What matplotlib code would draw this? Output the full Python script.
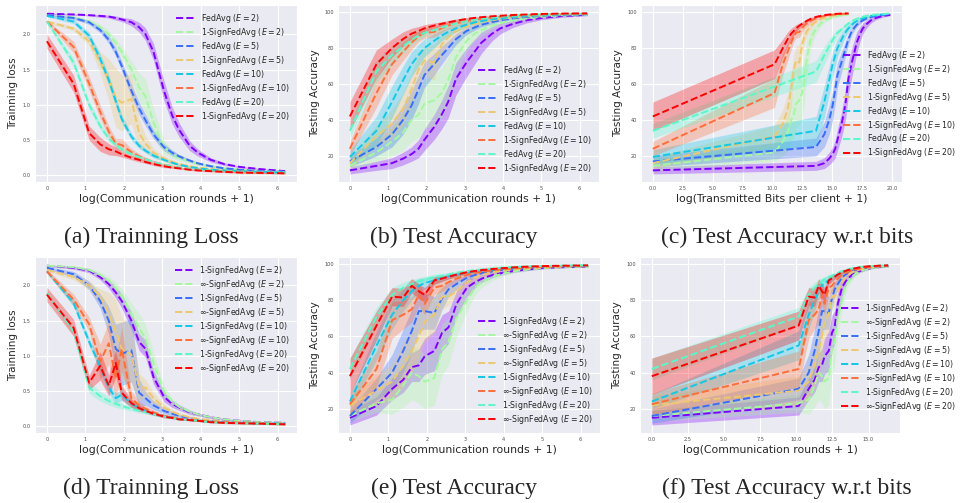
import numpy as np
import matplotlib
matplotlib.use("Agg")
import matplotlib.pyplot as plt
from matplotlib.ticker import MultipleLocator
import seaborn as sns

# ---------------- data ----------------
rounds = [0, 1, 2, 3, 4, 5, 6, 8, 10, 12, 15, 20, 25, 30, 40, 50, 70, 100, 150, 250, 490]
num_params = 26000            # bits per round for sign methods (1 bit / param)
fedavg_bits_per_param = 32    # FedAvg sends 32-bit floats

epochs = [2, 5, 10, 20]

# top row: FedAvg vs 1-SignFedAvg  -- training loss
loss_fedavg = {
    2:  [2.29, 2.28, 2.27, 2.26, 2.25, 2.23, 2.21, 2.17, 2.10, 2.00, 1.75, 1.20, 0.85, 0.65, 0.42, 0.32, 0.22, 0.16, 0.12, 0.09, 0.06],
    5:  [2.27, 2.23, 2.17, 2.06, 1.92, 1.75, 1.55, 1.20, 0.95, 0.78, 0.58, 0.40, 0.32, 0.27, 0.21, 0.17, 0.13, 0.10, 0.08, 0.06, 0.05],
    10: [2.26, 2.18, 1.98, 1.65, 1.35, 1.05, 0.80, 0.55, 0.42, 0.35, 0.28, 0.22, 0.18, 0.15, 0.12, 0.10, 0.08, 0.07, 0.06, 0.05, 0.04],
    20: [2.18, 1.60, 1.00, 0.70, 0.52, 0.43, 0.37, 0.30, 0.26, 0.23, 0.19, 0.15, 0.13, 0.11, 0.09, 0.08, 0.07, 0.06, 0.05, 0.04, 0.04],
}
loss_fedavg_std = {
    2:  [0.01, 0.01, 0.01, 0.02, 0.02, 0.03, 0.03, 0.05, 0.07, 0.09, 0.12, 0.14, 0.12, 0.10, 0.07, 0.05, 0.03, 0.02, 0.01, 0.01, 0.01],
    5:  [0.01, 0.02, 0.03, 0.04, 0.05, 0.06, 0.07, 0.09, 0.09, 0.08, 0.06, 0.05, 0.04, 0.03, 0.02, 0.02, 0.01, 0.01, 0.01, 0.01, 0.01],
    10: [0.01, 0.03, 0.05, 0.07, 0.08, 0.07, 0.06, 0.05, 0.04, 0.03, 0.03, 0.02, 0.02, 0.01, 0.01, 0.01, 0.01, 0.01, 0.01, 0.01, 0.01],
    20: [0.02, 0.06, 0.06, 0.05, 0.04, 0.04, 0.03, 0.03, 0.02, 0.02, 0.02, 0.02, 0.01, 0.01, 0.01, 0.01, 0.01, 0.01, 0.01, 0.01, 0.01],
}
loss_sign1 = {
    2:  [2.27, 2.24, 2.18, 2.10, 2.00, 1.88, 1.75, 1.50, 1.25, 1.12, 0.75, 0.40, 0.30, 0.25, 0.20, 0.16, 0.13, 0.10, 0.08, 0.06, 0.05],
    5:  [2.18, 2.08, 1.90, 1.60, 1.35, 1.10, 1.03, 1.08, 0.60, 0.45, 0.32, 0.24, 0.19, 0.16, 0.13, 0.11, 0.09, 0.07, 0.06, 0.05, 0.04],
    10: [2.18, 1.82, 1.30, 0.90, 0.62, 0.45, 0.43, 0.33, 0.27, 0.23, 0.19, 0.15, 0.13, 0.11, 0.09, 0.08, 0.07, 0.06, 0.05, 0.04, 0.03],
    20: [1.90, 1.30, 0.60, 0.44, 0.37, 0.34, 0.30, 0.25, 0.22, 0.19, 0.16, 0.13, 0.11, 0.10, 0.08, 0.07, 0.06, 0.05, 0.04, 0.035, 0.03],
}
loss_sign1_std = {
    2:  [0.01, 0.02, 0.03, 0.04, 0.05, 0.06, 0.08, 0.12, 0.20, 0.25, 0.20, 0.10, 0.06, 0.04, 0.03, 0.02, 0.02, 0.01, 0.01, 0.01, 0.01],
    5:  [0.02, 0.03, 0.06, 0.15, 0.30, 0.42, 0.40, 0.35, 0.20, 0.12, 0.06, 0.04, 0.03, 0.02, 0.02, 0.01, 0.01, 0.01, 0.01, 0.01, 0.01],
    10: [0.02, 0.08, 0.10, 0.10, 0.08, 0.07, 0.09, 0.05, 0.04, 0.03, 0.02, 0.02, 0.02, 0.01, 0.01, 0.01, 0.01, 0.01, 0.01, 0.01, 0.01],
    20: [0.10, 0.12, 0.10, 0.10, 0.08, 0.06, 0.04, 0.03, 0.03, 0.02, 0.02, 0.02, 0.01, 0.01, 0.01, 0.01, 0.01, 0.01, 0.01, 0.01, 0.01],
}

# top row: test accuracy
acc_fedavg = {
    2:  [12, 14.5, 16, 18.5, 21, 24, 29, 36, 43, 50, 63, 72, 78, 83, 88, 91, 93.5, 95.5, 96.8, 97.8, 98.5],
    5:  [17, 25, 32, 40, 48, 57, 65, 71, 76, 80, 85, 89.5, 91.5, 93, 94.5, 95.5, 96.5, 97.3, 98, 98.5, 98.9],
    10: [19.5, 34, 50, 62, 71, 76, 80, 84, 87, 89, 91, 93, 94.3, 95, 96, 96.6, 97.3, 97.9, 98.3, 98.7, 99],
    20: [34, 67, 76, 81, 84.5, 87, 88.5, 90, 91.5, 92.5, 93.7, 95, 95.8, 96.3, 97, 97.5, 98, 98.4, 98.7, 99, 99.2],
}
acc_fedavg_std = {
    2:  [2, 2.5, 3, 3.5, 4, 5, 6, 7, 8, 9, 9, 8, 7, 6, 4, 3, 2, 1.5, 1, 0.7, 0.5],
    5:  [3, 5, 7, 8, 8, 8, 7, 6, 5, 4, 3, 2, 1.5, 1.2, 1, 0.8, 0.6, 0.5, 0.4, 0.3, 0.3],
    10: [4, 8, 9, 8, 7, 6, 5, 4, 3, 2.5, 2, 1.5, 1.2, 1, 0.8, 0.6, 0.5, 0.4, 0.3, 0.3, 0.2],
    20: [4, 6, 5, 4, 3, 2.5, 2, 1.5, 1.2, 1, 1, 0.8, 0.6, 0.5, 0.4, 0.3, 0.3, 0.2, 0.2, 0.2, 0.2],
}
acc_sign1 = {
    2:  [14.5, 22, 28, 33, 40, 43, 49, 51, 55, 62, 75, 84, 88, 90, 92.5, 94, 95.5, 96.5, 97.5, 98.2, 98.7],
    5:  [16, 31, 38, 46, 57, 68, 73, 72, 82, 86, 89.5, 92, 93.5, 94.5, 95.5, 96.3, 97, 97.7, 98.2, 98.7, 99],
    10: [24, 55, 71, 78, 83, 86.5, 88.5, 89, 91, 92.5, 93.7, 95, 95.8, 96.3, 97, 97.5, 98, 98.4, 98.7, 99, 99.2],
    20: [42, 71, 80, 85, 88, 89.5, 91, 92.5, 93.5, 94.3, 95.2, 96.2, 96.8, 97.2, 97.7, 98, 98.4, 98.7, 99, 99.2, 99.3],
}
acc_sign1_std = {
    2:  [3, 5, 8, 10, 12, 13, 14, 14, 14, 13, 10, 6, 4, 3, 2, 1.5, 1, 0.8, 0.6, 0.5, 0.4],
    5:  [3, 6, 8, 9, 9, 8, 8, 10, 6, 4, 3, 2, 1.5, 1.2, 1, 0.8, 0.6, 0.5, 0.4, 0.3, 0.3],
    10: [4, 8, 6, 5, 4, 3, 3, 3, 2.5, 2, 1.5, 1.2, 1, 0.8, 0.6, 0.5, 0.4, 0.3, 0.3, 0.2, 0.2],
    20: [8, 8, 5, 4, 3, 2.5, 2, 1.5, 1.2, 1, 1, 0.8, 0.6, 0.5, 0.4, 0.3, 0.3, 0.2, 0.2, 0.2, 0.2],
}

# bottom row: 1-SignFedAvg vs inf-SignFedAvg -- training loss
loss2_sign1 = {
    2:  [2.28, 2.25, 2.21, 2.12, 2.02, 1.90, 1.78, 1.50, 1.20, 1.10, 0.70, 0.42, 0.32, 0.27, 0.20, 0.17, 0.13, 0.10, 0.08, 0.06, 0.05],
    5:  [2.25, 2.16, 2.00, 1.78, 1.50, 1.10, 1.03, 1.08, 0.48, 0.40, 0.30, 0.22, 0.18, 0.15, 0.12, 0.10, 0.08, 0.07, 0.06, 0.05, 0.04],
    10: [2.20, 1.75, 1.20, 0.85, 0.55, 0.40, 0.45, 0.32, 0.26, 0.22, 0.18, 0.15, 0.13, 0.11, 0.09, 0.08, 0.07, 0.06, 0.05, 0.04, 0.04],
    20: [1.89, 1.35, 0.55, 0.43, 0.36, 0.32, 0.29, 0.25, 0.22, 0.20, 0.17, 0.14, 0.12, 0.10, 0.09, 0.08, 0.06, 0.05, 0.045, 0.04, 0.03],
}
loss2_sign1_std = {
    2:  [0.01, 0.02, 0.03, 0.04, 0.06, 0.08, 0.10, 0.12, 0.12, 0.12, 0.10, 0.07, 0.05, 0.04, 0.03, 0.02, 0.02, 0.01, 0.01, 0.01, 0.01],
    5:  [0.02, 0.04, 0.06, 0.10, 0.20, 0.35, 0.45, 0.45, 0.20, 0.10, 0.06, 0.04, 0.03, 0.02, 0.02, 0.01, 0.01, 0.01, 0.01, 0.01, 0.01],
    10: [0.02, 0.05, 0.06, 0.07, 0.08, 0.07, 0.08, 0.05, 0.04, 0.03, 0.02, 0.02, 0.02, 0.01, 0.01, 0.01, 0.01, 0.01, 0.01, 0.01, 0.01],
    20: [0.03, 0.06, 0.08, 0.07, 0.06, 0.05, 0.04, 0.03, 0.03, 0.02, 0.02, 0.02, 0.01, 0.01, 0.01, 0.01, 0.01, 0.01, 0.01, 0.01, 0.01],
}
loss2_signinf = {
    2:  [2.28, 2.26, 2.22, 2.15, 2.07, 1.97, 1.85, 1.60, 1.40, 1.25, 0.90, 0.50, 0.35, 0.28, 0.21, 0.17, 0.13, 0.10, 0.08, 0.06, 0.05],
    5:  [2.22, 2.12, 2.00, 1.85, 1.60, 1.35, 1.10, 1.02, 0.55, 0.55, 0.40, 0.27, 0.21, 0.17, 0.13, 0.11, 0.09, 0.07, 0.06, 0.05, 0.04],
    10: [2.20, 1.80, 1.45, 0.92, 1.18, 0.68, 1.10, 0.40, 0.30, 0.25, 0.20, 0.15, 0.13, 0.11, 0.09, 0.08, 0.07, 0.06, 0.05, 0.04, 0.03],
    20: [1.87, 1.40, 0.62, 0.86, 0.58, 0.90, 0.48, 0.33, 0.26, 0.22, 0.18, 0.14, 0.12, 0.10, 0.09, 0.08, 0.06, 0.05, 0.045, 0.04, 0.03],
}
loss2_signinf_std = {
    2:  [0.01, 0.02, 0.03, 0.04, 0.06, 0.08, 0.10, 0.15, 0.20, 0.20, 0.15, 0.08, 0.05, 0.04, 0.03, 0.02, 0.02, 0.01, 0.01, 0.01, 0.01],
    5:  [0.02, 0.04, 0.06, 0.10, 0.30, 0.45, 0.45, 0.40, 0.20, 0.12, 0.08, 0.05, 0.03, 0.02, 0.02, 0.01, 0.01, 0.01, 0.01, 0.01, 0.01],
    10: [0.03, 0.08, 0.10, 0.25, 0.30, 0.30, 0.30, 0.10, 0.06, 0.04, 0.03, 0.02, 0.02, 0.01, 0.01, 0.01, 0.01, 0.01, 0.01, 0.01, 0.01],
    20: [0.10, 0.12, 0.10, 0.20, 0.15, 0.20, 0.10, 0.06, 0.04, 0.03, 0.02, 0.02, 0.01, 0.01, 0.01, 0.01, 0.01, 0.01, 0.01, 0.01, 0.01],
}

# bottom row: test accuracy
acc2_sign1 = {
    2:  [15, 21.5, 31, 36, 43, 44, 49, 52, 62, 65, 78, 87, 90, 92, 94, 95, 96.2, 97, 97.8, 98.3, 98.7],
    5:  [16, 31, 40, 52, 63, 74, 74, 73, 81, 86, 89, 92.5, 94, 95, 96, 96.7, 97.3, 97.8, 98.3, 98.7, 99],
    10: [24, 55, 72, 80, 85, 88, 89.5, 91, 92.3, 93.2, 94.2, 95.3, 96, 96.5, 97.1, 97.5, 98, 98.4, 98.7, 99, 99.2],
    20: [42, 71, 83, 87, 89, 90.5, 91.5, 92.8, 93.6, 94.3, 95.2, 96.1, 96.7, 97.1, 97.6, 98, 98.4, 98.7, 99, 99.2, 99.3],
}
acc2_sign1_std = {
    2:  [4, 5, 6, 7, 8, 9, 10, 11, 10, 9, 7, 5, 3, 2, 1.5, 1, 0.8, 0.6, 0.5, 0.4, 0.3],
    5:  [4, 6, 10, 12, 12, 11, 10, 9, 6, 4, 3, 2, 1.5, 1.2, 1, 0.8, 0.6, 0.5, 0.4, 0.3, 0.3],
    10: [4, 8, 8, 6, 5, 4, 3, 2.5, 2, 1.5, 1.2, 1, 0.8, 0.6, 0.5, 0.4, 0.3, 0.3, 0.2, 0.2, 0.2],
    20: [6, 5, 4, 3, 2.5, 2, 1.8, 1.5, 1.2, 1, 1, 0.8, 0.6, 0.5, 0.4, 0.3, 0.3, 0.2, 0.2, 0.2, 0.2],
}
acc2_signinf = {
    2:  [16, 23, 25, 33, 40, 38, 35, 37, 53, 57, 70, 80, 87, 90, 93, 94.5, 96, 97, 97.8, 98.3, 98.7],
    5:  [22, 30, 35, 44, 52, 60, 68, 72, 82, 82, 85, 90, 92.5, 94, 95.5, 96.3, 97, 97.6, 98.1, 98.6, 99],
    10: [22.5, 42, 69, 72, 75, 83, 78, 87, 88, 90, 92, 94, 95, 95.7, 96.5, 97, 97.6, 98.1, 98.5, 98.8, 99.1],
    20: [38, 66, 82, 81.5, 88, 85, 83, 91, 92, 93, 94.2, 95.5, 96.2, 96.7, 97.3, 97.7, 98.2, 98.6, 98.9, 99.1, 99.3],
}
acc2_signinf_std = {
    2:  [3, 5, 8, 12, 15, 15, 15, 15, 14, 13, 10, 6, 4, 3, 2, 1.5, 1, 0.8, 0.6, 0.5, 0.4],
    5:  [5, 8, 10, 12, 12, 12, 11, 10, 7, 5, 3, 2, 1.5, 1.2, 1, 0.8, 0.6, 0.5, 0.4, 0.3, 0.3],
    10: [6, 10, 10, 8, 7, 6, 6, 4, 3, 2.5, 2, 1.5, 1.2, 1, 0.8, 0.6, 0.5, 0.4, 0.3, 0.3, 0.2],
    20: [10, 8, 5, 5, 4, 4, 4, 2, 1.5, 1.2, 1, 0.8, 0.6, 0.5, 0.4, 0.3, 0.3, 0.2, 0.2, 0.2, 0.2],
}

captions = ["(a) Trainning Loss", "(b) Test Accuracy", "(c) Test Accuracy w.r.t bits",
            "(d) Trainning Loss", "(e) Test Accuracy", "(f) Test Accuracy w.r.t bits"]

# ---------------- style ----------------
sns.set_style("darkgrid")
plt.rcParams["font.family"] = ["DejaVu Sans"]
plt.rcParams["mathtext.fontset"] = "dejavusans"

W, H = 964, 503
fig = plt.figure(figsize=(W / 100, H / 100), dpi=100)

colors = plt.cm.rainbow(np.linspace(0, 1, 8))
cA = colors[:4]   # first method colours
cB = colors[4:]   # second method colours

r = np.array(rounds, dtype=float)
x_rounds = np.log(r + 1)
x_bits_fed = np.log(r * num_params * fedavg_bits_per_param + 1)
x_bits_sign = np.log(r * num_params + 1)


def px_axes(left, top, right, bottom):
    return fig.add_axes([left / W, 1 - bottom / H, (right - left) / W, (bottom - top) / H])


def draw(ax, xa, xb, dA, sA, dB, sB, nameA, nameB, ylabel, xlabel, legend_kw):
    for i, e in enumerate(epochs):
        for x, d, s, c, name in ((xa, dA, sA, cA[i], nameA), (xb, dB, sB, cB[i], nameB)):
            m = np.array(d[e]); sd = np.array(s[e])
            ax.fill_between(x, m - sd, m + sd, color=c, alpha=0.3, lw=0)
            ax.plot(x, m, ls="--", color=c, lw=1.4, label=f"{name} ($E={e}$)")
    ax.tick_params(axis="both", labelsize=3.6, pad=3, colors="0.3", length=0)
    ax.set_ylabel(ylabel, fontsize=7.5, labelpad=3)
    ax.set_xlabel(xlabel, fontsize=7.8, labelpad=2)
    ax.legend(fontsize=5.7, frameon=False, handlelength=2.5, handletextpad=0.6,
              labelspacing=0.12, **legend_kw)


xl_rounds = "log(Communication rounds + 1)"

axa = px_axes(35, 5, 297, 182)
draw(axa, x_rounds, x_rounds, loss_fedavg, loss_fedavg_std, loss_sign1, loss_sign1_std,
     "FedAvg", "1-SignFedAvg", "Trainning loss", xl_rounds, dict(loc="upper right"))

axb = px_axes(338, 5, 599, 182)
draw(axb, x_rounds, x_rounds, acc_fedavg, acc_fedavg_std, acc_sign1, acc_sign1_std,
     "FedAvg", "1-SignFedAvg", "Testing Accuracy", xl_rounds, dict(loc="lower right"))

axc = px_axes(641, 5, 902, 182)
draw(axc, x_bits_fed, x_bits_sign, acc_fedavg, acc_fedavg_std, acc_sign1, acc_sign1_std,
     "FedAvg", "1-SignFedAvg", "Testing Accuracy", "log(Transmitted Bits per client + 1)",
     dict(loc="center left", bbox_to_anchor=(0.745, 0.44)))

axd = px_axes(35, 257, 297, 433)
draw(axd, x_rounds, x_rounds, loss2_sign1, loss2_sign1_std, loss2_signinf, loss2_signinf_std,
     "1-SignFedAvg", "∞-SignFedAvg", "Trainning loss", xl_rounds, dict(loc="upper right"))

axe = px_axes(338, 257, 600, 433)
draw(axe, x_rounds, x_rounds, acc2_sign1, acc2_sign1_std, acc2_signinf, acc2_signinf_std,
     "1-SignFedAvg", "∞-SignFedAvg", "Testing Accuracy", xl_rounds, dict(loc="lower right"))

axf = px_axes(640, 257, 900, 433)
draw(axf, x_bits_sign, x_bits_sign, acc2_sign1, acc2_sign1_std, acc2_signinf, acc2_signinf_std,
     "1-SignFedAvg", "∞-SignFedAvg", "Testing Accuracy", xl_rounds,
     dict(loc="center left", bbox_to_anchor=(0.745, 0.43)))
axf.xaxis.set_major_locator(MultipleLocator(2.5))

cap_x = [151, 454, 787]
cap_y = [237, 488]
for k, cap in enumerate(captions):
    fig.text(cap_x[k % 3] / W, 1 - cap_y[k // 3] / H, cap, family="Liberation Serif",
             fontsize=17, ha="center", va="center")

fig.savefig("out.png", dpi=100)
